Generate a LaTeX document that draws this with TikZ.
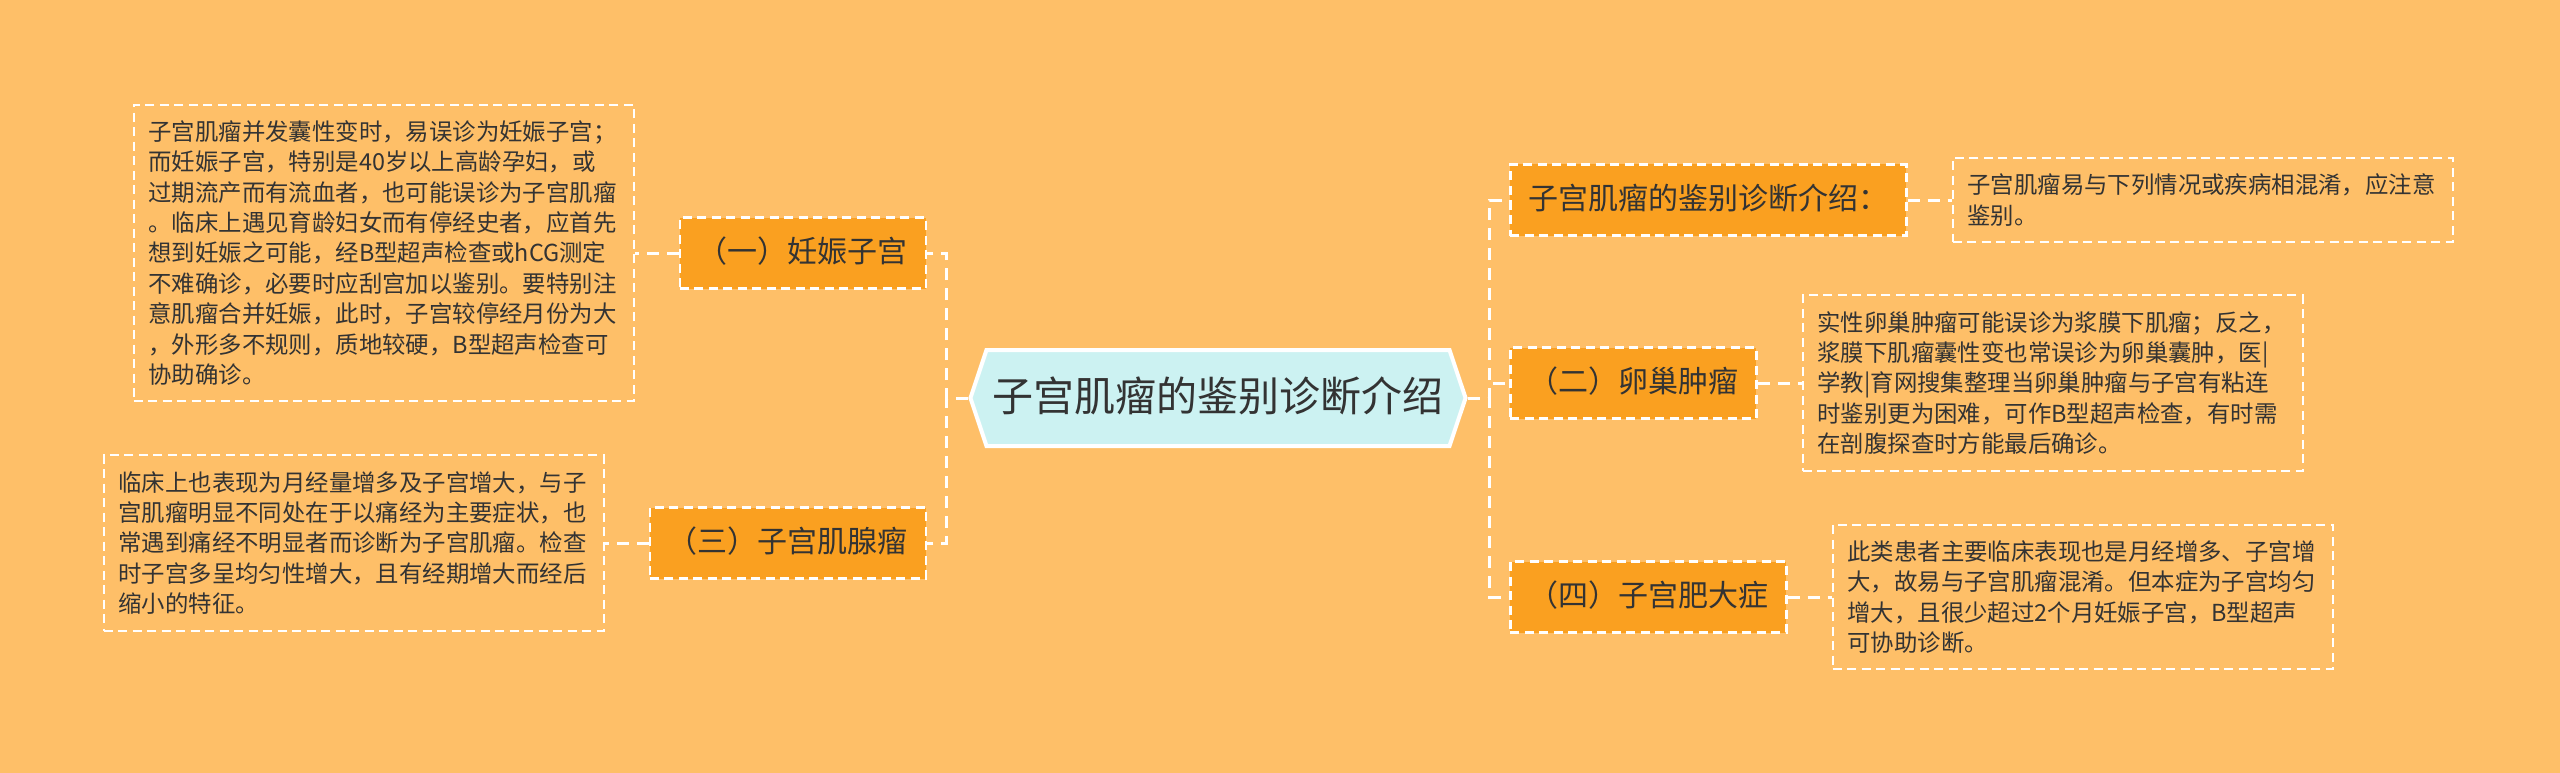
\documentclass[tikz,border=0pt]{standalone}
\usepackage{fontspec}
\newfontfamily\cjk{Noto Sans CJK SC}
\usetikzlibrary{positioning,shapes.symbols}

\definecolor{bgorange}{RGB}{254,191,104}
\definecolor{boxorange}{RGB}{250,160,32}
\definecolor{rootcyan}{RGB}{204,242,242}
\definecolor{inkgray}{RGB}{51,51,51}

\tikzset{
  rootnode/.style={shape=signal, signal from=nowhere, signal to=west and east, signal pointer angle=143,
    fill=rootcyan, draw=white, line width=4pt, text=inkgray, font=\cjk\fontsize{41}{48}\selectfont,
    inner xsep=6pt, inner ysep=26pt, text height=35pt, text depth=9pt},
  branch/.style={fill=boxorange, draw=white, line width=2.5pt, dash pattern=on 9pt off 5.5pt,
    text=inkgray, font=\cjk\fontsize{30}{36}\selectfont,
    inner xsep=18pt, inner ysep=20pt, text height=25pt, text depth=6pt},
  leaf/.style={draw=white, line width=2pt, dash pattern=on 9pt off 5.5pt, text=inkgray,
    font=\cjk\fontsize{23.4}{30.4}\selectfont, align=left, text width=470pt,
    inner xsep=15pt, inner ysep=16pt},
  link/.style={draw=white, line width=3pt, dash pattern=on 12pt off 8pt},
}

\begin{document}
\begin{tikzpicture}[x=1pt,y=-1pt]
		\useasboundingbox (0,0) rectangle (2560,773);
		\fill[bgorange] (0,0) rectangle (2560,773);
		%
		\node[rootnode] (root) at (1218,398) {子宫肌瘤的鉴别诊断介绍};
		%
		\node[branch, anchor=east] (b1) at (927,253) {（一）妊娠子宫};
		\node[branch, anchor=east] (b3) at (927,543) {（三）子宫肌腺瘤};
		\node[branch, anchor=west] (b0) at (1509,200) {子宫肌瘤的鉴别诊断介绍：};
		\node[branch, anchor=west] (b2) at (1509,383) {（二）卵巢肿瘤};
		\node[branch, anchor=west] (b4) at (1509,597) {（四）子宫肥大症};
		%
		\node[leaf, left=44pt of b1] (l1) {子宫肌瘤并发囊性变时，易误诊为妊娠子宫；\\
			而妊娠子宫，特别是40岁以上高龄孕妇，或\\
			过期流产而有流血者，也可能误诊为子宫肌瘤\\
			。临床上遇见育龄妇女而有停经史者，应首先\\
			想到妊娠之可能，经B型超声检查或hCG测定\\
			不难确诊，必要时应刮宫加以鉴别。要特别注\\
			意肌瘤合并妊娠，此时，子宫较停经月份为大\\
			，外形多不规则，质地较硬，B型超声检查可\\
			协助确诊。};
		\node[leaf, left=44pt of b3] (l3) {临床上也表现为月经量增多及子宫增大，与子\\
			宫肌瘤明显不同处在于以痛经为主要症状，也\\
			常遇到痛经不明显者而诊断为子宫肌瘤。检查\\
			时子宫多呈均匀性增大，且有经期增大而经后\\
			缩小的特征。};
		\node[leaf, right=44pt of b0] (l0) {子宫肌瘤易与下列情况或疾病相混淆，应注意\\
			鉴别。};
		\node[leaf, right=44pt of b2] (l2) {实性卵巢肿瘤可能误诊为浆膜下肌瘤；反之，\\
			浆膜下肌瘤囊性变也常误诊为卵巢囊肿，医|\\
			学教|育网搜集整理当卵巢肿瘤与子宫有粘连\\
			时鉴别更为困难，可作B型超声检查，有时需\\
			在剖腹探查时方能最后确诊。};
		\node[leaf, right=44pt of b4] (l4) {此类患者主要临床表现也是月经增多、子宫增\\
			大，故易与子宫肌瘤混淆。但本症为子宫均匀\\
			增大，且很少超过2个月妊娠子宫，B型超声\\
			可协助诊断。};
		%
		\foreach \b in {b1,b3}
			\draw[link] (root.west) -- ++(-22,0) |- (\b.east);
		\foreach \b in {b0,b2,b4}
			\draw[link] (root.east) -- ++(22,0) |- (\b.west);
		%
		\draw[link] (b1.west) -- (l1.east);
		\draw[link] (b3.west) -- (l3.east);
		\draw[link] (b0.east) -- (l0.west);
		\draw[link] (b2.east) -- (l2.west);
		\draw[link] (b4.east) -- (l4.west);
	\end{tikzpicture}
\end{document}
